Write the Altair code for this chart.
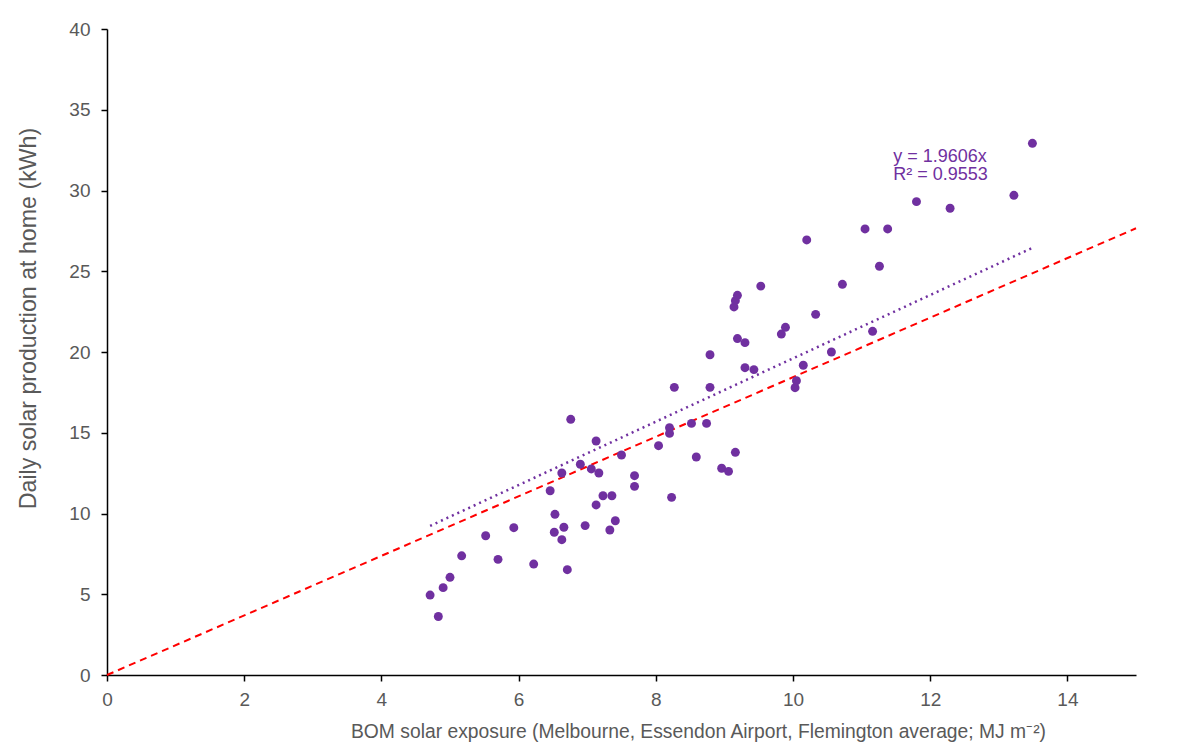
import altair as alt
import pandas as pd

# Daily BOM solar exposure (MJ m^-2) vs. rooftop production (kWh)
exposure = [4.71, 4.83, 4.90, 5.00, 5.17, 5.52, 5.70, 5.93, 6.22, 6.46,
            6.52, 6.53, 6.63, 6.63, 6.66, 6.71, 6.76, 6.90, 6.97, 7.06,
            7.13, 7.13, 7.17, 7.23, 7.33, 7.36, 7.41, 7.50, 7.69, 7.69,
            8.04, 8.20, 8.20, 8.23, 8.27, 8.52, 8.59, 8.74, 8.79, 8.79,
            8.96, 9.06, 9.14, 9.16, 9.16, 9.19, 9.19, 9.30, 9.30, 9.43,
            9.53, 9.83, 9.89, 10.03, 10.05, 10.15, 10.20, 10.33, 10.56, 10.72,
            11.05, 11.16, 11.26, 11.38, 11.80, 12.29, 13.22, 13.49]
production = [4.95, 3.62, 5.41, 6.05, 7.38, 8.62, 7.16, 9.12, 6.87, 11.41,
              8.84, 9.95, 8.38, 12.51, 9.15, 6.52, 15.83, 13.05, 9.25, 12.76,
              14.49, 10.53, 12.51, 11.10, 8.98, 11.10, 9.55, 13.62, 12.34, 11.68,
              14.20, 15.31, 14.96, 11.00, 17.81, 15.58, 13.50, 15.58, 19.83, 17.81,
              12.80, 12.61, 22.79, 23.18, 13.79, 23.51, 20.83, 20.58, 19.03, 18.91,
              24.08, 21.11, 21.53, 17.79, 18.22, 19.18, 26.94, 22.33, 20.00, 24.19,
              27.62, 21.28, 25.31, 27.62, 29.31, 28.90, 29.70, 32.92]

# Reference line through the origin
ref_x = [0.0, 15.0]
ref_y = [0.0, 27.66]

# Linear trend forced through zero
trend_slope = 1.9606
trend_x = [min(exposure), max(exposure)]
trend_y = [trend_slope * v for v in trend_x]

# Trendline equation label
eq_lines = ["y = 1.9606x", "R\u00b2 = 0.9553"]
eq_x = [11.46, 11.46]
eq_y = [32.07, 30.96]

PURPLE = "#7030A0"
GREY = "#595959"
FONT = "Liberation Sans"

pts = pd.DataFrame({"x": exposure, "y": production})
ref = pd.DataFrame({"x": ref_x, "y": ref_y})
trend = pd.DataFrame({"x": trend_x, "y": trend_y})
eq = pd.DataFrame({"x": eq_x, "y": eq_y, "t": eq_lines})

x_scale = alt.Scale(domain=[0, 15], nice=False, zero=True)
y_scale = alt.Scale(domain=[0, 40], nice=False)

x_axis = alt.Axis(
    title="BOM solar exposure (Melbourne, Essendon Airport, Flemington average; MJ m\u207b\u00b2)",
    values=[0, 2, 4, 6, 8, 10, 12, 14], format="d", grid=False, labelFlush=False,
    titleX=591, titleY=56, titleBaseline="middle", titleAlign="center",
    titleFontSize=19.3, labelPadding=9,
)
y_axis = alt.Axis(
    title="Daily solar production at home (kWh)",
    values=[0, 5, 10, 15, 20, 25, 30, 35, 40], format="d", grid=False, labelFlush=False,
    titleX=-79, titleY=289, titleBaseline="middle", titleAlign="center",
    titleFontSize=23.2, labelPadding=11,
)

base_x = alt.X("x:Q", scale=x_scale, axis=x_axis)
base_y = alt.Y("y:Q", scale=y_scale, axis=y_axis)

ref_line = alt.Chart(ref).mark_line(
    color="#FF0000", strokeWidth=2, strokeDash=[7, 5]
).encode(x=base_x, y=base_y)

trend_line = alt.Chart(trend).mark_line(
    color=PURPLE, strokeWidth=2.5, strokeDash=[2, 4]
).encode(x=alt.X("x:Q", scale=x_scale), y=alt.Y("y:Q", scale=y_scale))

points = alt.Chart(pts).mark_circle(
    color=PURPLE, opacity=1, size=80
).encode(x=alt.X("x:Q", scale=x_scale), y=alt.Y("y:Q", scale=y_scale))

label = alt.Chart(eq).mark_text(
    color=PURPLE, align="left", baseline="middle", fontSize=18, font=FONT
).encode(x=alt.X("x:Q", scale=x_scale), y=alt.Y("y:Q", scale=y_scale), text="t:N")

chart = alt.layer(ref_line, trend_line, points, label).properties(
    width=1029, height=646,
    autosize=alt.AutoSizeParams(type="none"),
    padding={"left": 107, "top": 29, "right": 64, "bottom": 77},
).configure_view(stroke=None).configure_axis(
    domainColor="black", domainWidth=1.5, tickColor="black", tickWidth=1.5,
    tickSize=6, labelColor=GREY, labelFontSize=19, labelFont=FONT,
    titleColor=GREY, titleFont=FONT, titleFontWeight="normal",
)

chart.save("out.html", embed_options={"renderer": "svg", "actions": False})
